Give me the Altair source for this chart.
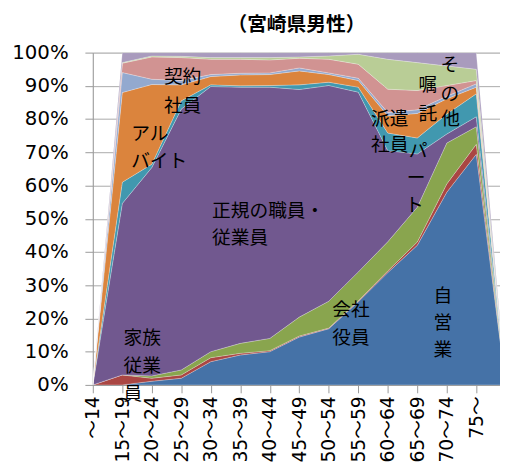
import json
import altair as alt
import pandas as pd

# x categories (the 15th, unlabeled one lies just beyond the visible right edge)
age_labels = ["～14", "15～19", "20～24", "25～29", "30～34", "35～39", "40～44",
              "45～49", "50～54", "55～59", "60～64", "65～69", "70～74", "75～", ""]

series_names = ["自営業", "家族従業員", "会社役員", "正規の職員・従業員", "パート",
                "アルバイト", "派遣社員", "契約社員", "嘱託", "その他"]
series_colors = ["#4572A7", "#AA4643", "#89A54E", "#71588F", "#4198AF",
                 "#DB843D", "#93A9CF", "#D19392", "#B9CD96", "#A99BBD"]

jieigyo   = [0, 0.0, 1.1, 2.0, 7.0, 9.0, 10.0, 14.4, 16.9, 25.0, 33.8, 42.0, 58.0, 69.4, 0]
kazoku    = [0, 3.0, 0.9, 1.0, 1.2, 0.5, 0.3, 0.3, 0.2, 0.3, 0.5, 1.0, 2.5, 3.0, 0]
yakuin    = [0, 0.0, 0.7, 1.5, 1.8, 3.0, 3.7, 5.7, 8.1, 8.7, 8.8, 10.5, 12.3, 5.3, 0]
seiki     = [0, 51.6, 62.7, 78.5, 79.8, 77.1, 75.6, 68.5, 64.9, 54.1, 27.4, 16.0, 2.7, 3.0, 0]
paato     = [0, 6.4, 1.0, 2.5, 0.5, 0.4, 0.5, 1.4, 1.0, 1.5, 5.3, 4.8, 6.0, 6.9, 0]
arubaito  = [0, 27.0, 24.0, 4.8, 2.5, 3.3, 3.3, 4.2, 2.3, 2.0, 5.2, 7.4, 4.6, 2.0, 0]
haken     = [0, 6.0, 1.6, 1.3, 0.6, 0.5, 0.5, 0.9, 0.5, 0.7, 1.0, 1.1, 0.8, 1.0, 0]
keiyaku   = [0, 2.8, 6.7, 6.9, 4.6, 4.2, 3.9, 2.9, 4.1, 4.2, 7.0, 5.8, 3.2, 1.0, 0]
shokutaku = [0, 0.2, 0.3, 0.4, 0.5, 0.5, 0.7, 0.4, 1.0, 3.0, 9.0, 8.4, 5.9, 3.4, 0]
sonota    = [0, 3.0, 1.0, 1.1, 1.5, 1.5, 1.5, 1.3, 1.0, 0.5, 2.0, 3.0, 4.0, 5.0, 0]

series_values = [jieigyo, kazoku, yakuin, seiki, paato, arubaito,
                 haken, keiyaku, shokutaku, sonota]

# in-chart labels: text, x (category index), y (%), alignment
label_texts = ["契約", "社員", "アル", "バイト", "正規の職員・", "従業員",
               "家族", "従業", "員", "会社", "役員", "派遣", "社員",
               "自", "営", "業", "パ", "ー", "ト", "嘱", "託", "そ", "の", "他"]
label_x = [2.41, 2.41, 1.30, 1.30, 4.04, 4.04,
           1.04, 1.04, 1.04, 8.12, 8.12, 9.43, 9.43,
           11.87, 11.87, 11.87, 11.03, 10.96, 10.90, 11.36, 11.36, 12.10, 12.10, 12.13]
label_y = [92.6, 84.0, 75.4, 67.4, 52.2, 44.2,
           14.2, 5.6, -2.7, 22.6, 14.2, 80.1, 72.1,
           26.7, 18.7, 10.4, 70.3, 62.3, 54.0, 90.2, 81.6, 96.4, 87.5, 80.1]
label_align = ["left"] * 13 + ["center"] * 11

rows = []
for k, (name, vals) in enumerate(zip(series_names, series_values)):
    for i, v in enumerate(vals):
        rows.append({"idx": i, "series": name, "order": k, "value": v})
df = pd.DataFrame(rows)

labels_df = pd.DataFrame({"text": label_texts, "lx": label_x, "ly": label_y,
                          "align": label_align})

FONT = "Noto Sans CJK JP"
AXIS_FONT = "DejaVu Sans, Noto Sans CJK JP"
PX_PER_CAT = 29.92
PLOT_W = 413
PLOT_H = 337
x_max = PLOT_W / PX_PER_CAT

x_scale = alt.Scale(domain=[0, x_max], nice=False, zero=False)
y_scale = alt.Scale(domain=[0, 100], nice=False)

label_expr = json.dumps(age_labels, ensure_ascii=False) + "[datum.value]"

area = alt.Chart(df).mark_area(clip=True, stroke="white", strokeWidth=0.5,
                               strokeOpacity=0.5).encode(
    x=alt.X("idx:Q", scale=x_scale,
            axis=alt.Axis(values=list(range(14)), labelExpr=label_expr,
                          labelAngle=-90, labelFontSize=19, labelFont=AXIS_FONT,
                          labelColor="#000", labelPadding=3, tickSize=8,
                          tickColor="#999", domainColor="#999", grid=False,
                          labelOverlap=False, labelBound=False, labelFlush=False,
                          title=None)),
    y=alt.Y("value:Q", stack="zero", scale=y_scale,
            axis=alt.Axis(values=list(range(0, 101, 10)),
                          labelExpr="datum.value + '%'", labelFontSize=20,
                          labelFont=AXIS_FONT, labelColor="#000", labelPadding=17,
                          labelOverlap=False, labelFlush=False,
                          tickSize=8, tickColor="#999", domainColor="#999",
                          gridColor="#aaa", gridWidth=1, title=None)),
    color=alt.Color("series:N", scale=alt.Scale(domain=series_names,
                                                range=series_colors),
                    legend=None),
    order=alt.Order("order:Q", sort="ascending"),
)

def text_layer(al):
    return alt.Chart(labels_df).transform_filter(
        alt.datum.align == al
    ).mark_text(align=al, baseline="middle", font=FONT, fontSize=19,
                color="#000").encode(
        x=alt.X("lx:Q", scale=x_scale, axis=None),
        y=alt.Y("ly:Q", scale=y_scale, axis=None),
        text="text:N",
    )

chart = alt.layer(area, text_layer("left"), text_layer("center")).resolve_axis(
    x="independent", y="independent"
).properties(
    width=PLOT_W, height=PLOT_H,
    autosize=alt.AutoSizeParams(type="none"),
    padding={"left": 86, "top": 42, "right": 0, "bottom": 80},
    title=alt.TitleParams(text="（宮崎県男性）", fontSize=20, fontWeight="bold",
                          font=FONT, color="#000", anchor="middle",
                          frame="group", offset=8),
).configure_view(stroke=None).configure(background="white")

chart.save("out.html", embed_options={"renderer": "svg", "actions": False})
